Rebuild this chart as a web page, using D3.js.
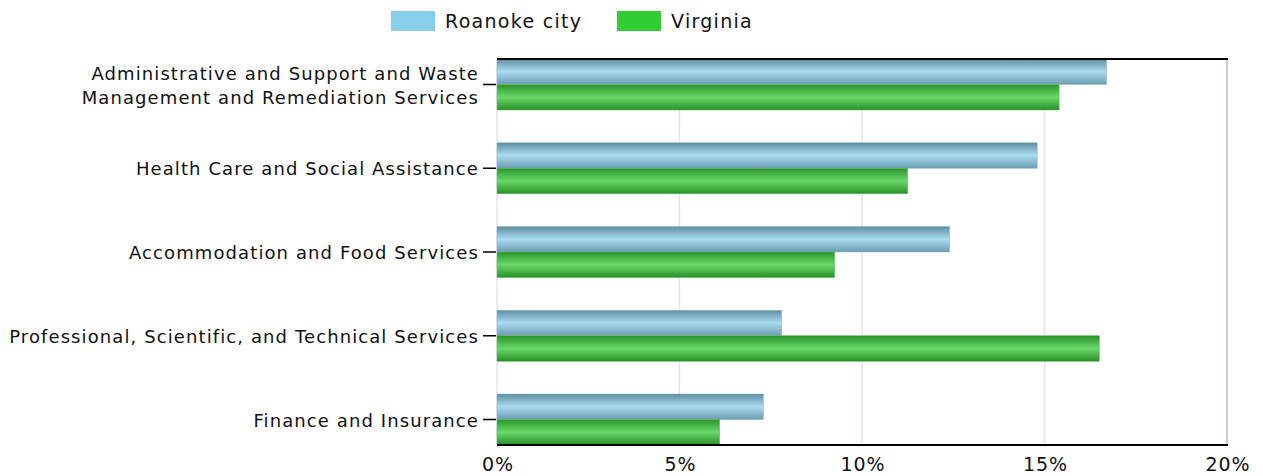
<!DOCTYPE html>
<html>
<head>
<meta charset="utf-8">
<script src="https://cdn.jsdelivr.net/npm/d3@7"></script>
<style>
  body { margin: 0; background: #fff; }
  text { font-family: "DejaVu Sans", Verdana, sans-serif; fill: #111; }
</style>
</head>
<body>
<div id="chart"></div>
<script>
// data (percent of jobs)
const categories = [
    ["Administrative and Support and Waste", "Management and Remediation Services"],
    ["Health Care and Social Assistance"],
    ["Accommodation and Food Services"],
    ["Professional, Scientific, and Technical Services"],
    ["Finance and Insurance"]
];
const seriesNames = ["Roanoke city", "Virginia"];
const roanoke = [16.7, 14.8, 12.4, 7.8, 7.3];
const virginia = [15.4, 11.25, 9.25, 16.5, 6.1];
const xTicks = [0, 5, 10, 15, 20];

const config = { width: 1263, height: 476, left: 497, right: 1227, top: 59, bottom: 445 };
const colors = ["#87ceeb", "#32cd32"];
const gradStops = [
    ["#5f8ea3", "#a9dcef", "#6b9cb2"],
    ["#2a952a", "#6ad86a", "#279027"]
];
const barH = 25.5;

const svg = d3.select("#chart").append("svg")
    .attr("width", config.width)
    .attr("height", config.height);

// gradients for the glossy bars
const defs = svg.append("defs");
gradStops.forEach((st, i) => {
    let g = defs.append("linearGradient")
        .attr("id", "grad" + i)
        .attr("x1", 0).attr("y1", 0).attr("x2", 0).attr("y2", 1);
    g.append("stop").attr("offset", "0%").attr("stop-color", st[0]);
    g.append("stop").attr("offset", "50%").attr("stop-color", st[1]);
    g.append("stop").attr("offset", "100%").attr("stop-color", st[2]);
});

const x = d3.scaleLinear().domain([0, 20]).range([config.left, config.right]);
const y = d3.scalePoint()
    .domain(d3.range(categories.length))
    .range([config.top + barH, config.bottom - barH]);

// grid lines
svg.append("g")
    .selectAll("line")
    .data(xTicks)
    .enter().append("line")
        .attr("x1", d => x(d)).attr("x2", d => x(d))
        .attr("y1", config.top).attr("y2", config.bottom)
        .attr("stroke", d => d == 20 ? "#b8b8c8" : "#e2e2f4")
        .attr("stroke-width", 1.5);

// bars
const series = [roanoke, virginia];
series.forEach((vals, s) => {
    svg.append("g")
        .selectAll("rect")
        .data(vals)
        .enter().append("rect")
            .attr("x", x(0))
            .attr("y", (d, i) => y(i) - barH + s * barH)
            .attr("width", d => x(d) - x(0))
            .attr("height", barH)
            .attr("fill", "url(#grad" + s + ")")
            .attr("stroke", s == 0 ? "#8fb4c6" : "#5cb85c")
            .attr("stroke-width", 0.5);
});

// top and bottom border
svg.append("line")
    .attr("x1", config.left).attr("x2", config.right + 1)
    .attr("y1", config.top).attr("y2", config.top)
    .attr("stroke", "#000").attr("stroke-width", 2);
svg.append("line")
    .attr("x1", config.left).attr("x2", config.right + 1)
    .attr("y1", config.bottom).attr("y2", config.bottom)
    .attr("stroke", "#000").attr("stroke-width", 2);

// y axis ticks and labels
const yAx = svg.append("g");
categories.forEach((lines, i) => {
    yAx.append("line")
        .attr("x1", config.left - 14).attr("x2", config.left - 1)
        .attr("y1", y(i)).attr("y2", y(i))
        .attr("stroke", "#000").attr("stroke-width", 1.5);
    let t = yAx.append("text")
        .attr("x", config.left - 18)
        .attr("y", y(i) - (lines.length - 1) * 12)
        .attr("text-anchor", "end")
        .attr("dominant-baseline", "central")
        .style("font-size", "18px")
        .style("letter-spacing", "1.1px");
    lines.forEach((l, k) => {
        t.append("tspan")
            .attr("x", config.left - 18)
            .attr("dy", k == 0 ? 0 : 24)
            .text(l);
    });
});

// x axis labels
svg.append("g")
    .selectAll("text")
    .data(xTicks)
    .enter().append("text")
        .attr("x", d => x(d) + 1)
        .attr("y", 471)
        .attr("text-anchor", "middle")
        .style("font-size", "19px")
        .style("letter-spacing", "1px")
        .text(d => d + "%");

// legend
const legX = [391, 617];
seriesNames.forEach((n, i) => {
    svg.append("rect")
        .attr("x", legX[i]).attr("y", 11)
        .attr("width", 44).attr("height", 20)
        .attr("fill", colors[i]);
    svg.append("text")
        .attr("x", legX[i] + 54).attr("y", 21)
        .attr("dominant-baseline", "central")
        .style("font-size", "19px")
        .style("letter-spacing", "1.3px")
        .text(n);
});
</script>
</body>
</html>
